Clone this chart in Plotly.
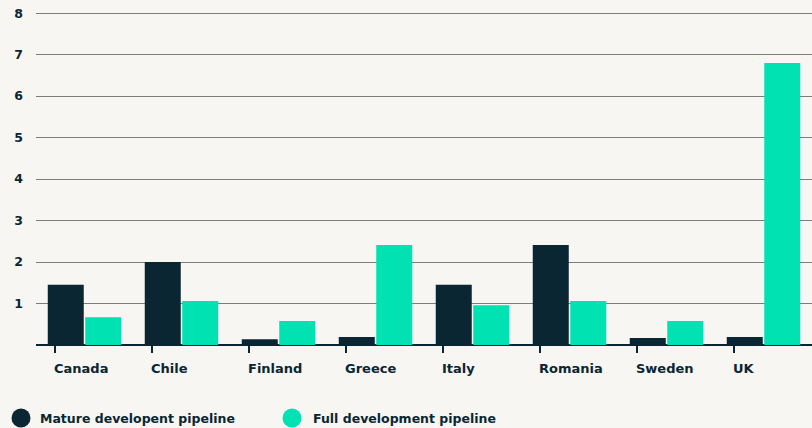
import plotly.graph_objects as go

countries = ["Canada", "Chile", "Finland", "Greece", "Italy", "Romania", "Sweden", "UK"]
mature = [1.45, 2.0, 0.14, 0.19, 1.45, 2.41, 0.17, 0.19]
full = [0.67, 1.06, 0.58, 2.41, 0.96, 1.06, 0.58, 6.80]
y_ticks = [1, 2, 3, 4, 5, 6, 7, 8]
series_names = ["Mature developent pipeline", "Full development pipeline"]

DARK = "#0a2633"
TEAL = "#00e2b2"
BG = "#f7f6f3"
FONT = "DejaVu Sans"

PLOT_LEFT = 36
x = list(range(len(countries)))
tick_offset = -0.305

fig = go.Figure()
fig.add_trace(go.Bar(x=x, y=mature, name=series_names[0], marker_color=DARK,
                     marker_line_width=0, showlegend=False))
fig.add_trace(go.Bar(x=x, y=full, name=series_names[1], marker_color=TEAL,
                     marker_line_width=0, showlegend=False))

# category labels, left-aligned at each tick mark
for i, name in enumerate(countries):
    fig.add_annotation(x=i + tick_offset, y=0, xref="x", yref="paper",
                       text=f"<b>{name}</b>", showarrow=False,
                       xanchor="left", yanchor="middle", xshift=-3, yshift=-23,
                       font=dict(family=FONT, size=13, color=DARK))

# legend: circle swatches with labels (positions in page pixels)
legend_items = [(series_names[0], DARK, 21, 40), (series_names[1], TEAL, 292, 313)]
for label, color, cx, tx in legend_items:
    fig.add_shape(type="circle", xref="paper", yref="paper", xsizemode="pixel",
                  ysizemode="pixel", xanchor=0, yanchor=0,
                  x0=cx - PLOT_LEFT - 9.5, x1=cx - PLOT_LEFT + 9.5,
                  y0=-82.5, y1=-63.5, fillcolor=color, line_width=0)
    fig.add_annotation(x=0, y=0, xref="paper", yref="paper", text=f"<b>{label}</b>",
                       showarrow=False, xanchor="left", yanchor="middle",
                       xshift=tx - PLOT_LEFT - 2, yshift=-73,
                       font=dict(family=FONT, size=12.5, color=DARK))

fig.update_layout(
    width=812, height=428,
    margin=dict(l=PLOT_LEFT, r=0, t=9, b=83),
    paper_bgcolor=BG, plot_bgcolor=BG,
    barmode="group", bargap=0.227, bargroupgap=0.04,
    showlegend=False,
    xaxis=dict(range=[-0.5, 7.5], showgrid=False, zeroline=False,
               showline=False,
               tickvals=[i + tick_offset for i in x], ticktext=["" for _ in x],
               ticks="outside", ticklen=7, tickwidth=1.5, tickcolor=DARK),
    yaxis=dict(range=[0, 8.1], tickvals=y_ticks,
               ticktext=[f"<b>{v}</b>" for v in y_ticks],
               showgrid=True, gridcolor="#7d7d7d", gridwidth=1,
               zeroline=True, zerolinecolor=DARK, zerolinewidth=2,
               ticks="", ticklabelstandoff=12,
               tickfont=dict(family=FONT, size=12.5, color=DARK)),
)

fig.write_html("out.html")
